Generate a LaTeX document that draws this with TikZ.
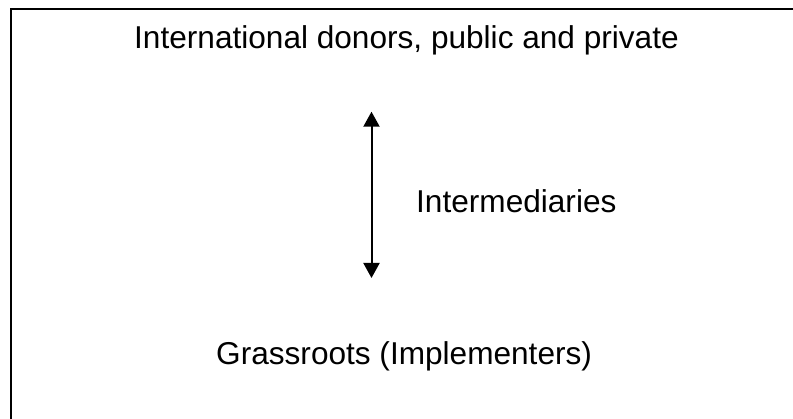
\documentclass[tikz,border=0pt]{standalone}
\usepackage{fontspec}
\setmainfont{Liberation Sans}
\usetikzlibrary{arrows.meta}
\begin{document}
\begin{tikzpicture}[x=1pt,y=-1pt,
  lbl/.style={inner sep=0pt,anchor=base west,font=\fontsize{31.6}{37}\selectfont},
  frame/.style={line width=2pt,draw=black},
  dbl/.style={line width=2pt,{Triangle[length=15pt,width=16pt]}-{Triangle[length=15pt,width=16pt]}}]
\useasboundingbox (0,0) rectangle (793,419);
\coordinate (bl) at (11.3,419);
\coordinate (tl) at (11.3,9);
\coordinate (tr) at (793,9);
\draw[frame] (bl) -- (tl) -- (tr);
\node[lbl] (donors) at (134,49) {International donors, public and private};
\node[lbl] (inter) at (416,213) {Intermediaries};
\node[lbl] (grass) at (216,365) {Grassroots (Implementers)};
\coordinate (atop) at (371.5,111.7);
\coordinate (abot) at (371.5,278);
\draw[dbl] (atop) -- (abot);
\end{tikzpicture}
\end{document}
